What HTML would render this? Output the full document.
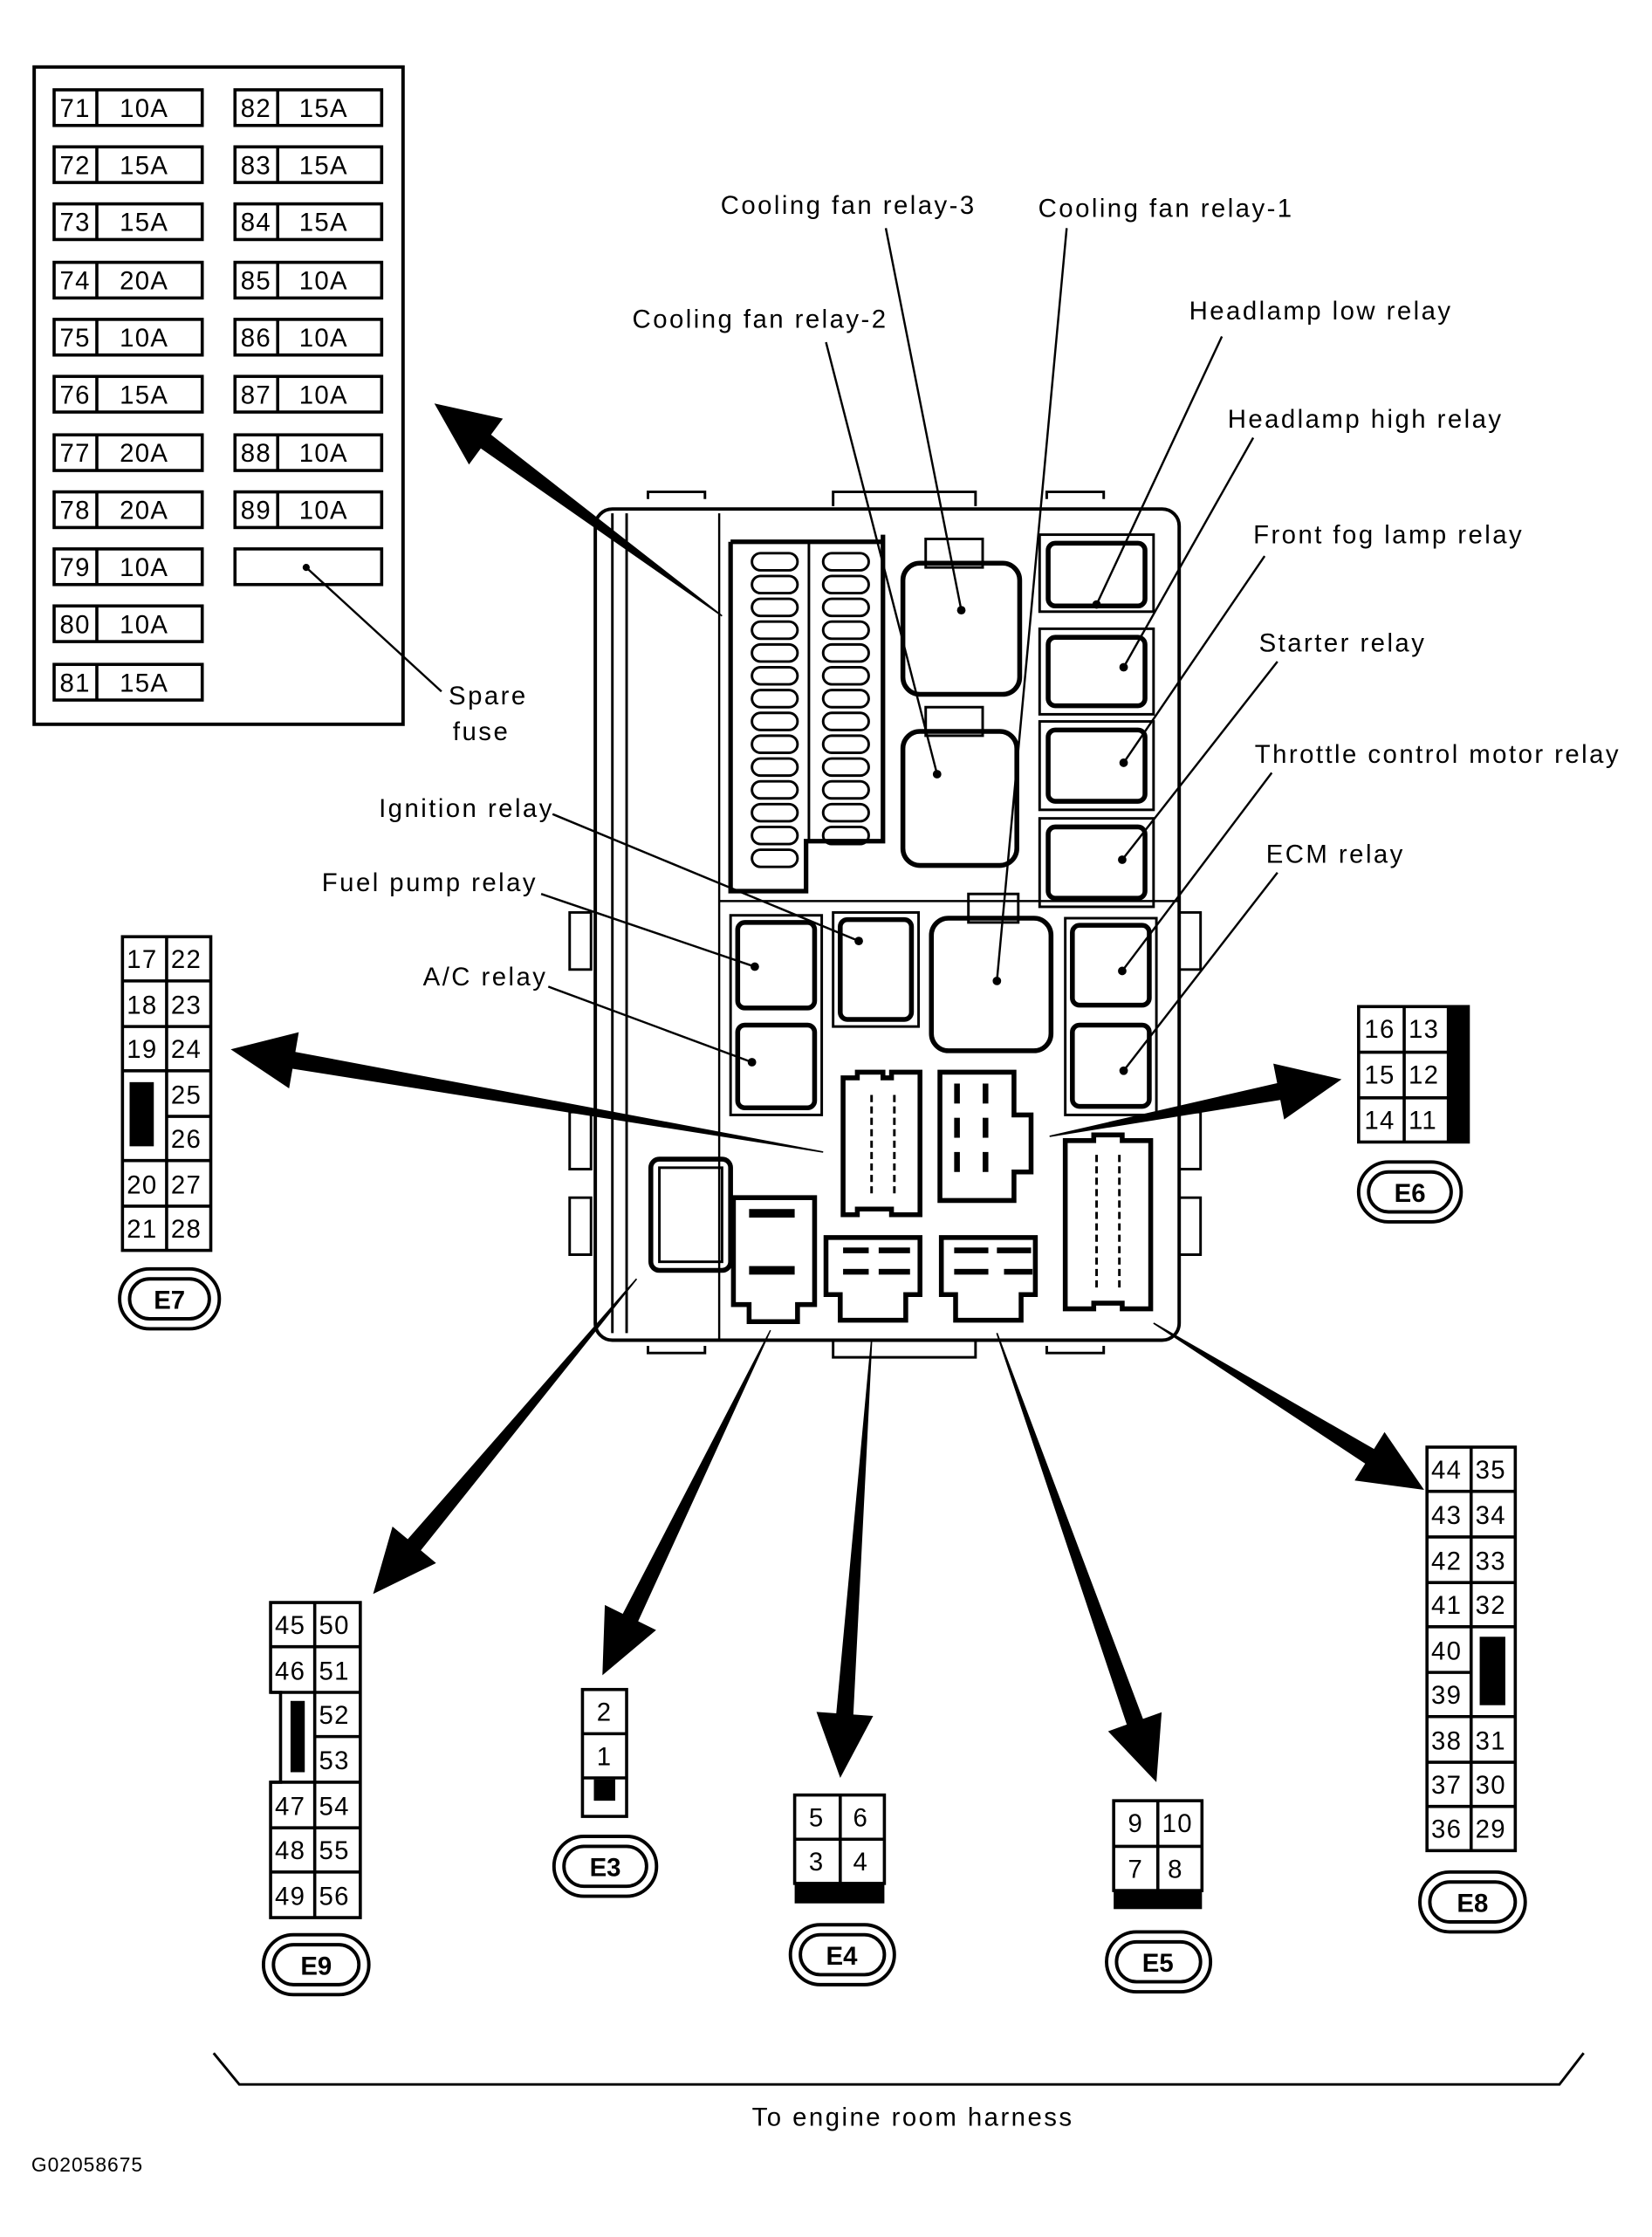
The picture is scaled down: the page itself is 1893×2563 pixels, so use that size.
<!DOCTYPE html>
<html><head><meta charset="utf-8"><style>
html,body{margin:0;padding:0;background:#fff}
svg{display:block}
text{font-family:"Liberation Sans",sans-serif;fill:#000}
.lb{letter-spacing:1.5px}
.nm{letter-spacing:0.8px}
</style></head><body>
<svg width="1893" height="2563" viewBox="0 0 1160 1569" preserveAspectRatio="none" xmlns="http://www.w3.org/2000/svg">
<g fill="none" stroke="#000" stroke-width="2.4">
<rect x="24" y="47" width="259" height="461"/>
<g stroke-width="2.2">
<rect x="38" y="63" width="104" height="25"/><line x1="68" y1="63" x2="68" y2="88"/>
<rect x="38" y="103" width="104" height="25"/><line x1="68" y1="103" x2="68" y2="128"/>
<rect x="38" y="143" width="104" height="25"/><line x1="68" y1="143" x2="68" y2="168"/>
<rect x="38" y="184" width="104" height="25"/><line x1="68" y1="184" x2="68" y2="209"/>
<rect x="38" y="224" width="104" height="25"/><line x1="68" y1="224" x2="68" y2="249"/>
<rect x="38" y="264" width="104" height="25"/><line x1="68" y1="264" x2="68" y2="289"/>
<rect x="38" y="305" width="104" height="25"/><line x1="68" y1="305" x2="68" y2="330"/>
<rect x="38" y="345" width="104" height="25"/><line x1="68" y1="345" x2="68" y2="370"/>
<rect x="38" y="385" width="104" height="25"/><line x1="68" y1="385" x2="68" y2="410"/>
<rect x="38" y="425" width="104" height="25"/><line x1="68" y1="425" x2="68" y2="450"/>
<rect x="38" y="466" width="104" height="25"/><line x1="68" y1="466" x2="68" y2="491"/>
<rect x="165" y="63" width="103" height="25"/><line x1="195" y1="63" x2="195" y2="88"/>
<rect x="165" y="103" width="103" height="25"/><line x1="195" y1="103" x2="195" y2="128"/>
<rect x="165" y="143" width="103" height="25"/><line x1="195" y1="143" x2="195" y2="168"/>
<rect x="165" y="184" width="103" height="25"/><line x1="195" y1="184" x2="195" y2="209"/>
<rect x="165" y="224" width="103" height="25"/><line x1="195" y1="224" x2="195" y2="249"/>
<rect x="165" y="264" width="103" height="25"/><line x1="195" y1="264" x2="195" y2="289"/>
<rect x="165" y="305" width="103" height="25"/><line x1="195" y1="305" x2="195" y2="330"/>
<rect x="165" y="345" width="103" height="25"/><line x1="195" y1="345" x2="195" y2="370"/>
<rect x="165" y="385" width="103" height="25"/>
</g>
<line x1="215" y1="398" x2="310" y2="485" stroke-width="1.5"/>

<rect x="418" y="357" width="410" height="583" rx="12"/>
<line x1="430" y1="360" x2="430" y2="935" stroke-width="1.8"/>
<line x1="440" y1="360" x2="440" y2="935" stroke-width="1.8"/>
<path d="M455 350 v-5 h40 v5 M585 355 v-10 h100 v10 M735 350 v-5 h40 v5" stroke-width="1.8"/>
<path d="M455 944 v5 h40 v-5 M585 940 v12 h100 v-12 M735 944 v5 h40 v-5" stroke-width="1.8"/>
<path d="M400 640 h15 v40 h-15z M400 780 h15 v40 h-15z M400 840 h15 v40 h-15z M828 640 h15 v40 h-15z M828 780 h15 v40 h-15z M828 840 h15 v40 h-15z" stroke-width="1.8"/>
<line x1="505" y1="360" x2="505" y2="940" stroke-width="1.5"/>
<line x1="505" y1="632" x2="828" y2="632" stroke-width="1.5"/>
<path d="M513 380 H620 V375 M513 380 V625 H566 V590 H620 V380" stroke-width="3.2"/>
<line x1="568" y1="380" x2="568" y2="590" stroke-width="1.8"/>
<g stroke-width="1.8">
<rect x="528" y="388" width="32" height="12" rx="6"/><rect x="528" y="404" width="32" height="12" rx="6"/><rect x="528" y="420" width="32" height="12" rx="6"/><rect x="528" y="436" width="32" height="12" rx="6"/><rect x="528" y="452" width="32" height="12" rx="6"/><rect x="528" y="468" width="32" height="12" rx="6"/><rect x="528" y="484" width="32" height="12" rx="6"/><rect x="528" y="500" width="32" height="12" rx="6"/><rect x="528" y="516" width="32" height="12" rx="6"/><rect x="528" y="532" width="32" height="12" rx="6"/><rect x="528" y="548" width="32" height="12" rx="6"/><rect x="528" y="564" width="32" height="12" rx="6"/><rect x="528" y="580" width="32" height="12" rx="6"/><rect x="528" y="596" width="32" height="12" rx="6"/>
<rect x="578" y="388" width="32" height="12" rx="6"/><rect x="578" y="404" width="32" height="12" rx="6"/><rect x="578" y="420" width="32" height="12" rx="6"/><rect x="578" y="436" width="32" height="12" rx="6"/><rect x="578" y="452" width="32" height="12" rx="6"/><rect x="578" y="468" width="32" height="12" rx="6"/><rect x="578" y="484" width="32" height="12" rx="6"/><rect x="578" y="500" width="32" height="12" rx="6"/><rect x="578" y="516" width="32" height="12" rx="6"/><rect x="578" y="532" width="32" height="12" rx="6"/><rect x="578" y="548" width="32" height="12" rx="6"/><rect x="578" y="564" width="32" height="12" rx="6"/><rect x="578" y="580" width="32" height="12" rx="6"/>
</g>
<g stroke-width="3.4">
<rect x="634" y="395" width="82" height="92" rx="12"/>
<rect x="634" y="513" width="80" height="94" rx="12"/>
<rect x="654" y="644" width="84" height="93" rx="12"/>
<rect x="736" y="381" width="68" height="44" rx="5"/>
<rect x="736" y="447" width="68" height="48" rx="5"/>
<rect x="736" y="512" width="68" height="50" rx="5"/>
<rect x="736" y="580" width="68" height="50" rx="5"/>
<rect x="753" y="649" width="54" height="56" rx="5"/>
<rect x="753" y="719" width="54" height="57" rx="5"/>
<rect x="518" y="647" width="54" height="60" rx="5"/>
<rect x="518" y="719" width="54" height="58" rx="5"/>
<rect x="590" y="645" width="50" height="70" rx="5"/>
</g>
<g stroke-width="1.8">
<rect x="730" y="375" width="80" height="54"/><rect x="730" y="441" width="80" height="60"/><rect x="730" y="506" width="80" height="62"/><rect x="730" y="574" width="80" height="62"/>
<rect x="748" y="644" width="64" height="138"/><rect x="513" y="642" width="64" height="140"/>
<rect x="585" y="640" width="60" height="80"/><rect x="650" y="378" width="40" height="20"/><rect x="650" y="496" width="40" height="20"/><rect x="680" y="627" width="35" height="20"/>
</g>
<g stroke-width="3.4">
<path d="M592 756 h10 v-4 h18 v4 h6 v-4 h20 v100 h-20 v-4 h-24 v4 h-10z"/>
<path d="M660 752 h52 v30 h12 v40 h-12 v20 h-52z"/>
<path d="M748 800 h20 v-4 h20 v4 h20 v118 h-20 v-4 h-20 v4 h-20z"/>
<rect x="457" y="813" width="56" height="78" rx="6"/>
<path d="M515 840 h57 v75 h-12 v12 h-34 v-12 h-11z"/>
<path d="M580 868 h66 v40 h-10 v18 h-46 v-18 h-10z"/>
<path d="M661 868 h66 v40 h-10 v18 h-46 v-18 h-10z"/>
</g>
<g stroke-width="1.8">
<rect x="463" y="819" width="44" height="66"/>
<line x1="612" y1="768" x2="612" y2="840" stroke-dasharray="5,3"/><line x1="628" y1="768" x2="628" y2="840" stroke-dasharray="5,3"/>
<line x1="770" y1="810" x2="770" y2="905" stroke-dasharray="5,3"/><line x1="786" y1="810" x2="786" y2="905" stroke-dasharray="5,3"/>
</g>
<g fill="#000" stroke="none">
<rect x="670" y="760" width="4" height="14"/><rect x="690" y="760" width="4" height="14"/><rect x="670" y="784" width="4" height="14"/><rect x="690" y="784" width="4" height="14"/><rect x="670" y="808" width="4" height="14"/><rect x="690" y="808" width="4" height="14"/>
<rect x="526" y="848" width="32" height="6"/><rect x="526" y="888" width="32" height="6"/>
<rect x="592" y="875" width="18" height="4"/><rect x="617" y="875" width="22" height="4"/><rect x="592" y="890" width="18" height="4"/><rect x="617" y="890" width="22" height="4"/>
<rect x="670" y="875" width="24" height="4"/><rect x="700" y="875" width="24" height="4"/><rect x="670" y="890" width="24" height="4"/><rect x="705" y="890" width="20" height="4"/>
</g>

<g stroke-width="1.5">
<line x1="622" y1="160" x2="675" y2="428"/>
<line x1="749" y1="160" x2="700" y2="688"/>
<line x1="580" y1="240" x2="658" y2="543"/>
<line x1="858" y1="236" x2="770" y2="424"/>
<line x1="880" y1="307" x2="789" y2="468"/>
<line x1="888" y1="390" x2="789" y2="535"/>
<line x1="897" y1="464" x2="788" y2="603"/>
<line x1="893" y1="542" x2="788" y2="681"/>
<line x1="897" y1="612" x2="789" y2="751"/>
<line x1="388" y1="571" x2="603" y2="660"/>
<line x1="380" y1="627" x2="530" y2="678"/>
<line x1="385" y1="692" x2="528" y2="745"/>
</g>
<g fill="#000" stroke="none">
<circle cx="675" cy="428" r="3"/><circle cx="700" cy="688" r="3"/><circle cx="658" cy="543" r="3"/><circle cx="770" cy="424" r="3"/><circle cx="789" cy="468" r="3"/><circle cx="789" cy="535" r="3"/><circle cx="788" cy="603" r="3"/><circle cx="788" cy="681" r="3"/><circle cx="789" cy="751" r="3"/><circle cx="603" cy="660" r="3"/><circle cx="530" cy="678" r="3"/><circle cx="528" cy="745" r="3"/><circle cx="215" cy="398" r="2.5"/>
</g>

<g fill="#000" stroke="none">
<polygon points="507.3,431.6 344.8,304.9 353.1,293.6 305,283 329.3,325.8 337.6,314.5 506.7,432.4"/>
<polygon points="578.1,807.5 207.4,737.8 209.8,724 162,736 203,763.4 205.4,749.6 577.9,808.5"/>
<polygon points="737.1,797.5 899,771.5 901.7,785.2 942,757 894.1,746 896.8,759.7 736.9,796.5"/>
<polygon points="447.4,897.3 295.5,1087.4 306.2,1096.3 262,1118 275.6,1070.7 286.3,1079.6 446.6,896.7"/>
<polygon points="541.4,933.2 448.1,1137.1 460.7,1143.3 423,1175 424.7,1125.7 437.3,1131.9 540.6,932.8"/>
<polygon points="612.5,940 599.2,1202.5 613.1,1203.5 590,1247 573.3,1200.7 587.2,1201.7 611.5,940"/>
<polygon points="700.5,934.8 802.6,1205.6 815.7,1200.9 812,1250 778.1,1214.3 791.2,1209.6 699.5,935.2"/>
<polygon points="810.3,927.6 964.8,1016.3 972.2,1004.4 1000,1045 951.2,1038.4 958.6,1026.5 809.7,928.4"/>
</g>

<g stroke-width="2.2">
<rect x="86" y="657" width="62" height="220"/>
<line x1="117" y1="657" x2="117" y2="877"/>
<line x1="86" y1="688" x2="148" y2="688"/><line x1="86" y1="720" x2="148" y2="720"/><line x1="86" y1="751" x2="148" y2="751"/><line x1="117" y1="783" x2="148" y2="783"/><line x1="86" y1="814" x2="148" y2="814"/><line x1="86" y1="846" x2="148" y2="846"/>
<rect x="954" y="706" width="77" height="95"/>
<line x1="986" y1="706" x2="986" y2="801"/><line x1="1017" y1="706" x2="1017" y2="801"/>
<line x1="954" y1="738" x2="1017" y2="738"/><line x1="954" y1="770" x2="1017" y2="770"/>
<rect x="1002" y="1015" width="62" height="283"/>
<line x1="1033" y1="1015" x2="1033" y2="1298"/>
<line x1="1002" y1="1046" x2="1064" y2="1046"/><line x1="1002" y1="1078" x2="1064" y2="1078"/><line x1="1002" y1="1110" x2="1064" y2="1110"/><line x1="1002" y1="1141" x2="1064" y2="1141"/><line x1="1002" y1="1173" x2="1033" y2="1173"/><line x1="1002" y1="1204" x2="1064" y2="1204"/><line x1="1002" y1="1236" x2="1064" y2="1236"/><line x1="1002" y1="1267" x2="1064" y2="1267"/>
<path d="M190 1124 H253 V1345 H190 V1250 H197 V1187 H190 Z"/>
<line x1="221" y1="1124" x2="221" y2="1345"/>
<line x1="190" y1="1155" x2="253" y2="1155"/><line x1="190" y1="1187" x2="253" y2="1187"/><line x1="221" y1="1218" x2="253" y2="1218"/><line x1="190" y1="1250" x2="253" y2="1250"/><line x1="190" y1="1282" x2="253" y2="1282"/><line x1="190" y1="1313" x2="253" y2="1313"/>
<rect x="409" y="1185" width="31" height="89"/>
<line x1="409" y1="1216" x2="440" y2="1216"/><line x1="409" y1="1247" x2="440" y2="1247"/>
<rect x="558" y="1259" width="63" height="62"/><line x1="590" y1="1259" x2="590" y2="1321"/><line x1="558" y1="1290" x2="621" y2="1290"/>
<rect x="782" y="1263" width="62" height="63"/><line x1="813" y1="1263" x2="813" y2="1326"/><line x1="782" y1="1295" x2="844" y2="1295"/>
</g>
<g fill="#000" stroke="none">
<rect x="91" y="759" width="17" height="45"/>
<rect x="1017" y="706" width="14" height="95"/>
<rect x="1039" y="1148" width="18" height="48"/>
<rect x="204" y="1193" width="10" height="50"/>
<rect x="417" y="1248" width="15" height="15"/>
<rect x="558" y="1321" width="63" height="14"/>
<rect x="782" y="1326" width="62" height="13"/>
</g>
<g stroke-width="2.4">
<rect x="84" y="890" width="70" height="42" rx="21"/><rect x="91" y="897" width="56" height="28" rx="14"/>
<rect x="954" y="815" width="72" height="42" rx="21"/><rect x="961" y="822" width="58" height="28" rx="14"/>
<rect x="997" y="1313" width="74" height="42" rx="21"/><rect x="1004" y="1320" width="60" height="28" rx="14"/>
<rect x="185" y="1357" width="74" height="42" rx="21"/><rect x="192" y="1364" width="60" height="28" rx="14"/>
<rect x="389" y="1288" width="72" height="42" rx="21"/><rect x="396" y="1295" width="58" height="28" rx="14"/>
<rect x="555" y="1350" width="73" height="42" rx="21"/><rect x="562" y="1357" width="59" height="28" rx="14"/>
<rect x="777" y="1355" width="73" height="42" rx="21"/><rect x="784" y="1362" width="59" height="28" rx="14"/>
</g>
<path d="M150 1440 L168 1462 H1095 L1112 1440" stroke-width="1.8"/>
</g>

<g font-size="18" class="nm">
<text x="42" y="82">71</text><text x="84" y="82">10A</text>
<text x="42" y="122">72</text><text x="84" y="122">15A</text>
<text x="42" y="162">73</text><text x="84" y="162">15A</text>
<text x="42" y="203">74</text><text x="84" y="203">20A</text>
<text x="42" y="243">75</text><text x="84" y="243">10A</text>
<text x="42" y="283">76</text><text x="84" y="283">15A</text>
<text x="42" y="324">77</text><text x="84" y="324">20A</text>
<text x="42" y="364">78</text><text x="84" y="364">20A</text>
<text x="42" y="404">79</text><text x="84" y="404">10A</text>
<text x="42" y="444">80</text><text x="84" y="444">10A</text>
<text x="42" y="485">81</text><text x="84" y="485">15A</text>
<text x="169" y="82">82</text><text x="210" y="82">15A</text>
<text x="169" y="122">83</text><text x="210" y="122">15A</text>
<text x="169" y="162">84</text><text x="210" y="162">15A</text>
<text x="169" y="203">85</text><text x="210" y="203">10A</text>
<text x="169" y="243">86</text><text x="210" y="243">10A</text>
<text x="169" y="283">87</text><text x="210" y="283">10A</text>
<text x="169" y="324">88</text><text x="210" y="324">10A</text>
<text x="169" y="364">89</text><text x="210" y="364">10A</text>

<text x="89" y="679">17</text><text x="120" y="679">22</text>
<text x="89" y="711">18</text><text x="120" y="711">23</text>
<text x="89" y="742">19</text><text x="120" y="742">24</text>
<text x="120" y="774">25</text><text x="120" y="805">26</text>
<text x="89" y="837">20</text><text x="120" y="837">27</text>
<text x="89" y="868">21</text><text x="120" y="868">28</text>

<text x="958" y="728">16</text><text x="989" y="728">13</text>
<text x="958" y="760">15</text><text x="989" y="760">12</text>
<text x="958" y="792">14</text><text x="989" y="792">11</text>

<text x="1005" y="1037">44</text><text x="1036" y="1037">35</text>
<text x="1005" y="1069">43</text><text x="1036" y="1069">34</text>
<text x="1005" y="1101">42</text><text x="1036" y="1101">33</text>
<text x="1005" y="1132">41</text><text x="1036" y="1132">32</text>
<text x="1005" y="1164">40</text>
<text x="1005" y="1195">39</text>
<text x="1005" y="1227">38</text><text x="1036" y="1227">31</text>
<text x="1005" y="1258">37</text><text x="1036" y="1258">30</text>
<text x="1005" y="1289">36</text><text x="1036" y="1289">29</text>

<text x="193" y="1146">45</text><text x="224" y="1146">50</text>
<text x="193" y="1178">46</text><text x="224" y="1178">51</text>
<text x="224" y="1209">52</text><text x="224" y="1241">53</text>
<text x="193" y="1273">47</text><text x="224" y="1273">54</text>
<text x="193" y="1304">48</text><text x="224" y="1304">55</text>
<text x="193" y="1336">49</text><text x="224" y="1336">56</text>

<text x="419" y="1207">2</text><text x="419" y="1238">1</text>
<text x="568" y="1281">5</text><text x="599" y="1281">6</text>
<text x="568" y="1312">3</text><text x="599" y="1312">4</text>
<text x="792" y="1285">9</text><text x="816" y="1285">10</text>
<text x="792" y="1317">7</text><text x="820" y="1317">8</text>
</g>
<g font-size="18" class="lb">
<text x="315" y="494">Spare</text><text x="318" y="519">fuse</text>
<text x="506" y="150">Cooling fan relay-3</text>
<text x="729" y="152">Cooling fan relay-1</text>
<text x="444" y="230">Cooling fan relay-2</text>
<text x="835" y="224">Headlamp low relay</text>
<text x="862" y="300">Headlamp high relay</text>
<text x="880" y="381">Front fog lamp relay</text>
<text x="884" y="457">Starter relay</text>
<text x="881" y="535">Throttle control motor relay</text>
<text x="889" y="605">ECM relay</text>
<text x="266" y="573">Ignition relay</text>
<text x="226" y="625">Fuel pump relay</text>
<text x="297" y="691">A/C relay</text>
<text x="528" y="1491">To engine room harness</text>
</g>
<text x="22" y="1523" font-size="14" style="letter-spacing:0.6px">G02058675</text>
<g font-size="18" font-weight="bold" text-anchor="middle">
<text x="119" y="918">E7</text>
<text x="990" y="843">E6</text>
<text x="1034" y="1341">E8</text>
<text x="222" y="1385">E9</text>
<text x="425" y="1316">E3</text>
<text x="591" y="1378">E4</text>
<text x="813" y="1383">E5</text>
</g>
</svg>
</body></html>
